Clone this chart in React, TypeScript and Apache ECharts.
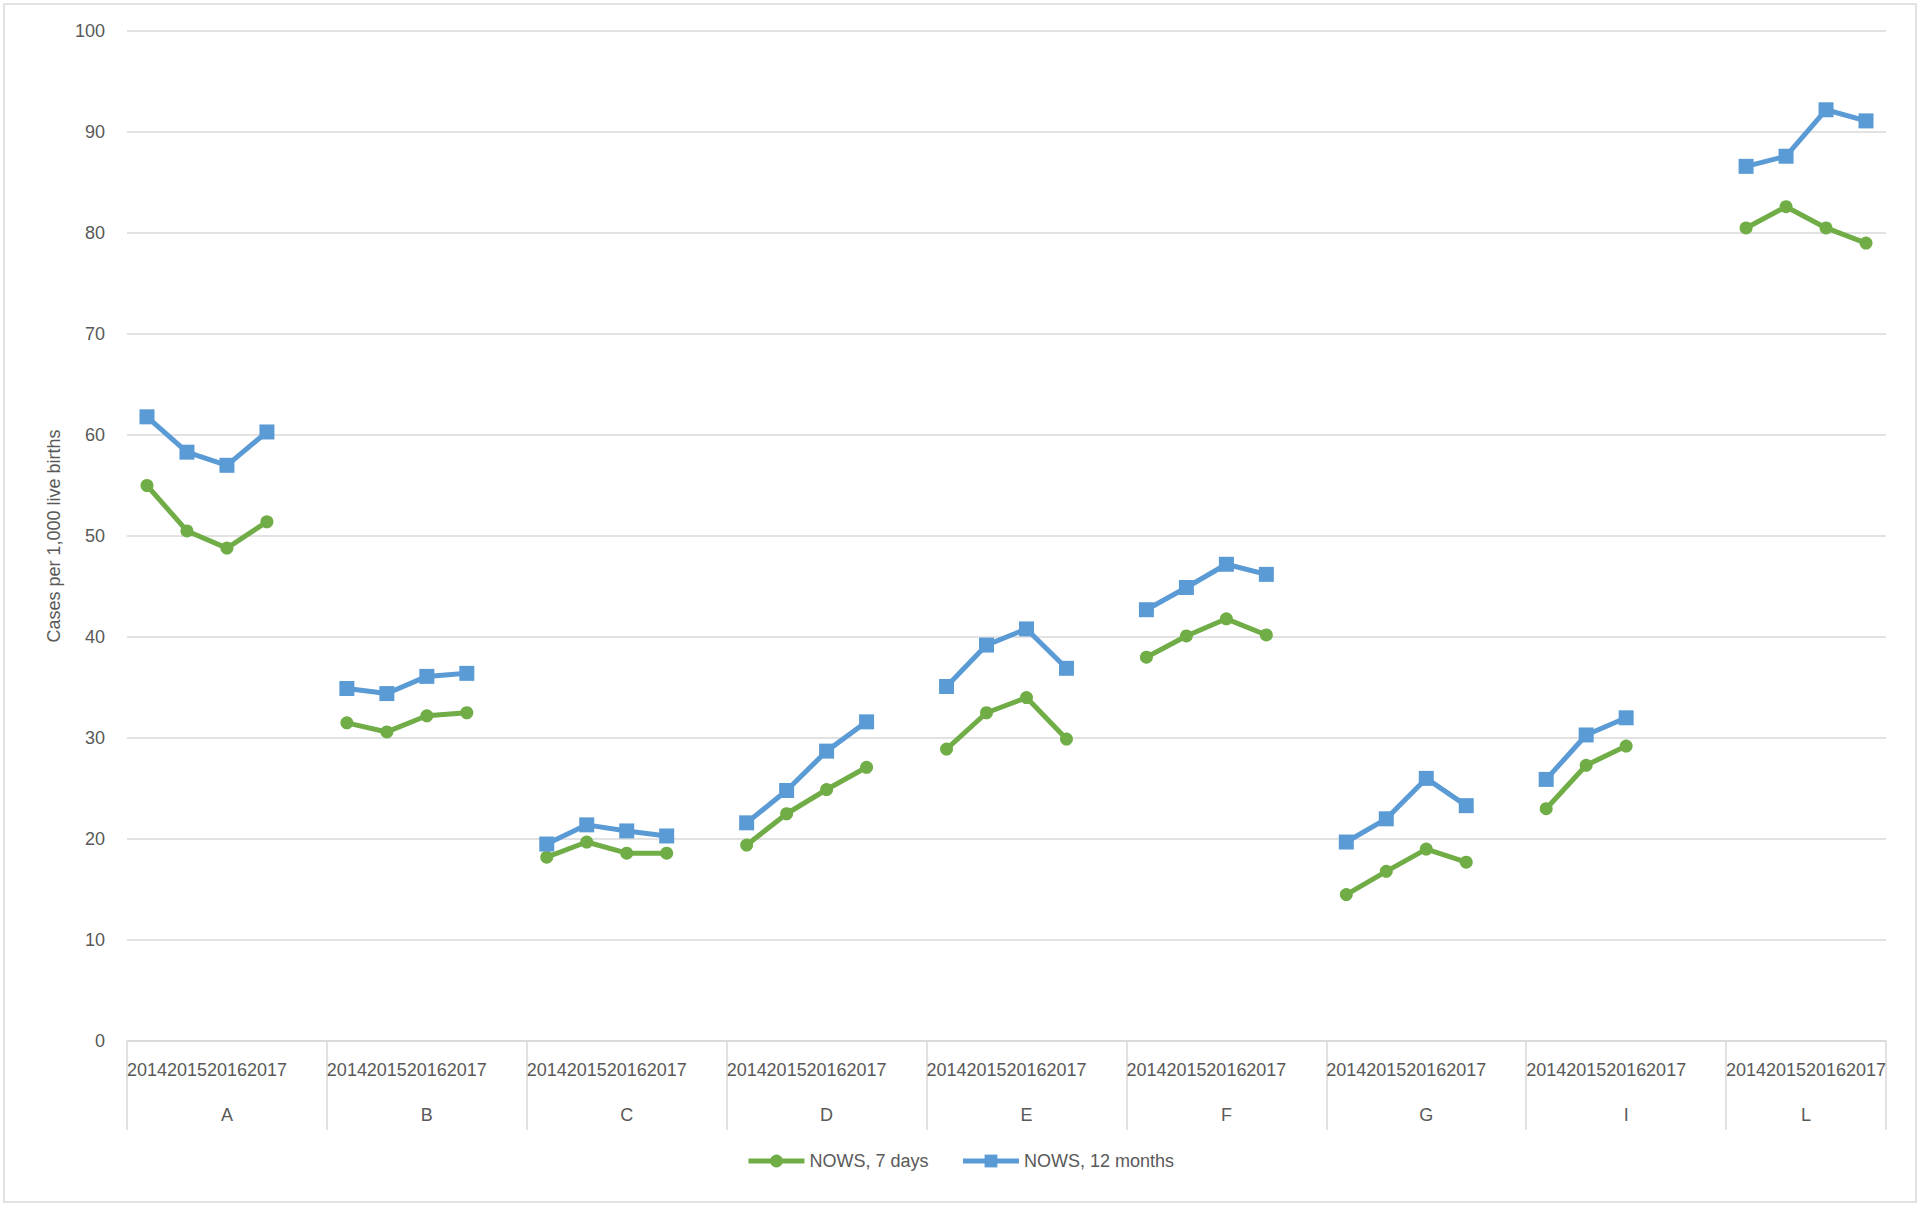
import React, { useEffect, useRef } from "react";
import * as echarts from "echarts";

const groups = ["A", "B", "C", "D", "E", "F", "G", "I", "L"];
const years = ["2014", "2015", "2016", "2017"];

// NOWS, 7 days (per group, 2014..2017)
const nows7Days: (number | null)[][] = [
  [55.0, 50.5, 48.8, 51.4],
  [31.5, 30.6, 32.2, 32.5],
  [18.2, 19.7, 18.6, 18.6],
  [19.4, 22.5, 24.9, 27.1],
  [28.9, 32.5, 34.0, 29.9],
  [38.0, 40.1, 41.8, 40.2],
  [14.5, 16.8, 19.0, 17.7],
  [23.0, 27.3, 29.2, null],
  [80.5, 82.6, 80.5, 79.0],
];

// NOWS, 12 months (per group, 2014..2017)
const nows12Months: (number | null)[][] = [
  [61.8, 58.3, 57.0, 60.3],
  [34.9, 34.4, 36.1, 36.4],
  [19.5, 21.4, 20.8, 20.3],
  [21.6, 24.8, 28.7, 31.6],
  [35.1, 39.2, 40.8, 36.9],
  [42.7, 44.9, 47.2, 46.2],
  [19.7, 22.0, 26.0, 23.3],
  [25.9, 30.3, 32.0, null],
  [86.6, 87.6, 92.2, 91.1],
];

const yTicks = { min: 0, max: 100, interval: 10 };
const seriesNames = ["NOWS, 7 days", "NOWS, 12 months"];
const yAxisName = "Cases per 1,000 live births";

const GREEN = "#70AD47";
const BLUE = "#5B9BD5";
const TEXT = "#595959";
const GRIDC = "#D9D9D9";
const FONT = "'Liberation Sans Narrow', 'Liberation Sans', Arial, sans-serif";

export default function App() {
  const ref = useRef<HTMLDivElement>(null);

  useEffect(() => {
    if (!ref.current) return;
    const chart = echarts.init(ref.current, undefined, { renderer: "svg" });

    // Excel-style layout: each group has its year slots plus one blank spacer slot (except the last)
    const yearCats: string[] = [];
    const groupStart: number[] = [];
    const groupSlots: number[] = [];
    groups.forEach((g, gi) => {
      groupStart.push(yearCats.length);
      years.forEach((y) => yearCats.push(y));
      if (gi < groups.length - 1) yearCats.push("");
      groupSlots.push(yearCats.length - groupStart[gi]);
    });
    const totalSlots = yearCats.length;
    const boundaries = [...groupStart, totalSlots];
    const groupCenters = groups.map((g, gi) => groupStart[gi] + groupSlots[gi] / 2);

    const makeSeries = (
      name: string,
      values: (number | null)[][],
      color: string,
      symbol: string,
      size: number
    ) =>
      groups.map((g, gi) => ({
        name,
        type: "line",
        xAxisIndex: 0,
        yAxisIndex: 0,
        data: values[gi]
          .map((v, yi) => (v === null ? null : [groupStart[gi] + yi, v]))
          .filter((d) => d !== null),
        symbol,
        symbolSize: size,
        showSymbol: true,
        lineStyle: { color, width: 5 },
        itemStyle: { color },
        emphasis: { disabled: true },
        z: name === seriesNames[1] ? 3 : 2,
      }));

    const option: any = {
      animation: false,
      backgroundColor: "#ffffff",
      textStyle: { fontFamily: FONT, color: TEXT },
      grid: { left: 127, right: 34, top: 31, bottom: 165, containLabel: false },
      legend: {
        bottom: 31,
        left: "center",
        itemWidth: 56,
        itemHeight: 16,
        itemGap: 32,
        lineStyle: { width: 5 },
        textStyle: { fontFamily: FONT, fontSize: 18, color: TEXT },
        data: seriesNames,
      },
      xAxis: [
        {
          type: "category",
          data: yearCats,
          boundaryGap: true,
          position: "bottom",
          axisLine: { show: true, lineStyle: { color: GRIDC, width: 1.5 } },
          axisTick: { show: false },
          axisLabel: {
            interval: 0,
            margin: 20,
            fontSize: 18,
            color: TEXT,
            fontFamily: FONT,
          },
          splitLine: { show: false },
        },
        {
          type: "value",
          min: 0,
          max: totalSlots,
          position: "bottom",
          offset: 0,
          axisLine: { show: false },
          axisTick: {
            show: true,
            length: 89,
            customValues: boundaries,
            lineStyle: { color: GRIDC, width: 1.5 },
          },
          axisLabel: {
            show: true,
            customValues: groupCenters,
            margin: 65,
            fontSize: 18,
            color: TEXT,
            fontFamily: FONT,
            formatter: (v: number) => {
              const i = groupCenters.findIndex((c) => Math.abs(c - v) < 1e-6);
              return i >= 0 ? groups[i] : "";
            },
          },
          splitLine: { show: false },
        },
      ],
      yAxis: {
        type: "value",
        min: yTicks.min,
        max: yTicks.max,
        interval: yTicks.interval,
        name: yAxisName,
        nameLocation: "middle",
        nameGap: 64,
        nameRotate: 90,
        nameTextStyle: { fontFamily: FONT, fontSize: 18, color: TEXT },
        axisLine: { show: false },
        axisTick: { show: false },
        axisLabel: { margin: 22, fontSize: 18, color: TEXT, fontFamily: FONT },
        splitLine: { show: true, lineStyle: { color: GRIDC, width: 1.5 } },
      },
      graphic: [
        {
          type: "rect",
          shape: { x: 4, y: 4, width: 1912, height: 1198 },
          style: { fill: "none", stroke: GRIDC, lineWidth: 1.5 },
          silent: true,
        },
      ],
      series: [
        ...makeSeries(seriesNames[0], nows7Days, GREEN, "circle", 13),
        ...makeSeries(seriesNames[1], nows12Months, BLUE, "rect", 15),
      ],
    };

    chart.setOption(option);
    return () => chart.dispose();
  }, []);

  return (
    <div
      ref={ref}
      style={{ position: "fixed", left: 0, top: 0, width: 1920, height: 1206, background: "#fff" }}
    />
  );
}
